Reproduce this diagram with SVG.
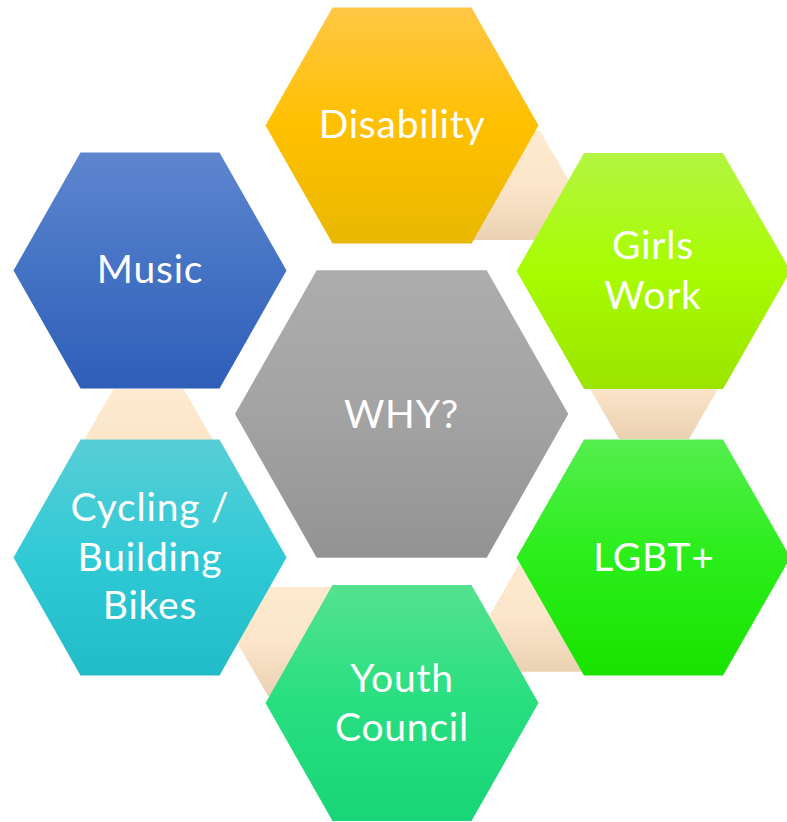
<svg xmlns="http://www.w3.org/2000/svg" width="787" height="822" viewBox="0 0 787 822">
<defs>
<linearGradient id="gBeige" x1="0" y1="0" x2="0" y2="1"><stop offset="0" stop-color="#FEEAD0"/><stop offset="0.5" stop-color="#FCE6CA"/><stop offset="1" stop-color="#EAD1B2"/></linearGradient>
<linearGradient id="gYellow" x1="0" y1="0" x2="0" y2="1"><stop offset="0" stop-color="#FFC745"/><stop offset="0.5" stop-color="#FFC000"/><stop offset="1" stop-color="#E9B800"/></linearGradient>
<linearGradient id="gBlue" x1="0" y1="0" x2="0" y2="1"><stop offset="0" stop-color="#5E86CF"/><stop offset="0.5" stop-color="#4472C4"/><stop offset="1" stop-color="#2E5EB8"/></linearGradient>
<linearGradient id="gGray" x1="0" y1="0" x2="0" y2="1"><stop offset="0" stop-color="#ADADAD"/><stop offset="0.5" stop-color="#A3A3A3"/><stop offset="1" stop-color="#939393"/></linearGradient>
<linearGradient id="gLime" x1="0" y1="0" x2="0" y2="1"><stop offset="0" stop-color="#B3F542"/><stop offset="0.5" stop-color="#A8FC00"/><stop offset="1" stop-color="#9BE400"/></linearGradient>
<linearGradient id="gCyan" x1="0" y1="0" x2="0" y2="1"><stop offset="0" stop-color="#58CED6"/><stop offset="0.5" stop-color="#30CAD6"/><stop offset="1" stop-color="#22BCC8"/></linearGradient>
<linearGradient id="gGreen" x1="0" y1="0" x2="0" y2="1"><stop offset="0" stop-color="#55EE4F"/><stop offset="0.5" stop-color="#2AEE1A"/><stop offset="1" stop-color="#18E300"/></linearGradient>
<linearGradient id="gTeal" x1="0" y1="0" x2="0" y2="1"><stop offset="0" stop-color="#54E28F"/><stop offset="0.5" stop-color="#28DF80"/><stop offset="1" stop-color="#18D578"/></linearGradient>
</defs>
<style>
.conn { fill: url(#gBeige); }
.lbl { font-family: Lato, "Liberation Sans", sans-serif; font-size: 39px; font-weight: 400; letter-spacing: 0.8px; fill: #FFFFFF; text-anchor: middle; }
</style>
<g id="connectors">
<polygon class="conn" points="438.5,185.5 470,131 540,131 571.5,185.5 540,240 470,240"/>
<polygon class="conn" points="587.5,384.5 619,330 689,330 720.5,384.5 689,439 619,439"/>
<polygon class="conn" points="82,443.5 113.5,389 183.5,389 215,443.5 183.5,498 113.5,498"/>
<polygon class="conn" points="236.5,641.5 268,587 338,587 369.5,641.5 338,696 268,696"/>
<polygon class="conn" points="488.5,617.2 520,562.7 590,562.7 621.5,617.2 590,671.7 520,671.7"/>
</g>
<g id="node-why">
<polygon fill="url(#gGray)" points="235,414 316.7,270.2 486.7,270.2 568.3,414 486.7,557.8 316.7,557.8"/>
<text class="lbl" x="401.5" y="427.5">WHY?</text>
</g>
<g id="node-disability">
<polygon fill="url(#gYellow)" points="265.5,125.5 332.5,7.5 471.5,7.5 538.5,125.5 471.5,243.5 332.5,243.5"/>
<text class="lbl" x="402" y="138.3">Disability</text>
</g>
<g id="node-music">
<polygon fill="url(#gBlue)" points="13.5,270.5 80.5,152.5 219.5,152.5 286.5,270.5 219.5,388.5 80.5,388.5"/>
<text class="lbl" x="150" y="283.3">Music</text>
</g>
<g id="node-girls-work">
<polygon fill="url(#gLime)" points="516.5,271 584,153 723,153 790.5,271 723,389 584,389"/>
<text class="lbl" x="653" y="259.3">Girls</text>
<text class="lbl" x="653" y="309">Work</text>
</g>
<g id="node-cycling">
<polygon fill="url(#gCyan)" points="13.5,557.5 80.5,439.5 219.5,439.5 286.5,557.5 219.5,675.5 80.5,675.5"/>
<text class="lbl" x="150" y="521">Cycling /</text>
<text class="lbl" x="150" y="571">Building</text>
<text class="lbl" x="150" y="619.3">Bikes</text>
</g>
<g id="node-lgbt">
<polygon fill="url(#gGreen)" points="516.5,557.5 584,439.5 723,439.5 790.5,557.5 723,675.5 584,675.5"/>
<text class="lbl" x="654" y="570.7">LGBT+</text>
</g>
<g id="node-youth-council">
<polygon fill="url(#gTeal)" points="265.5,703 332.5,585 471.5,585 538.5,703 471.5,821 332.5,821"/>
<text class="lbl" x="402" y="691.7">Youth</text>
<text class="lbl" x="402" y="740.7">Council</text>
</g>
</svg>
